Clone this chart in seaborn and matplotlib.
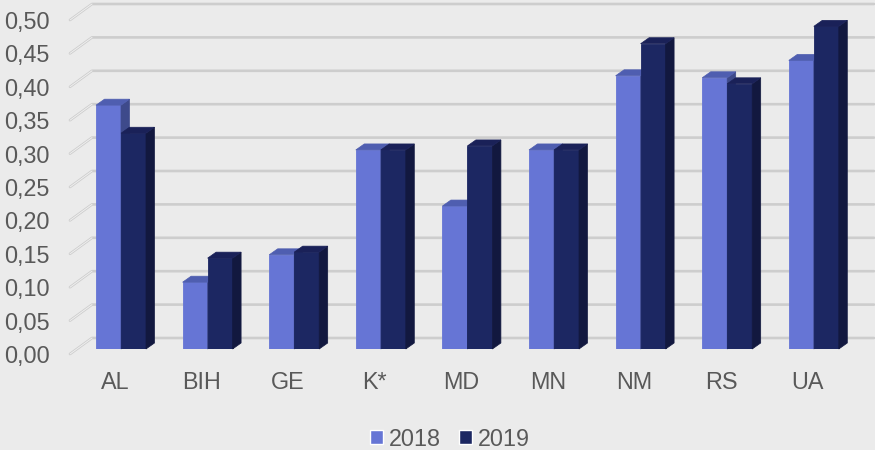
import matplotlib
matplotlib.use('Agg')
import matplotlib.pyplot as plt
from matplotlib.patches import Polygon
from matplotlib.transforms import ScaledTranslation
import pandas as pd
import seaborn as sns

countries = ['AL', 'BIH', 'GE', 'K*', 'MD', 'MN', 'NM', 'RS', 'UA']
values_2018 = [0.365, 0.100, 0.141, 0.298, 0.214, 0.298, 0.409, 0.406, 0.432]
values_2019 = [0.323, 0.136, 0.145, 0.298, 0.304, 0.298, 0.457, 0.397, 0.483]
y_ticks = [0.00, 0.05, 0.10, 0.15, 0.20, 0.25, 0.30, 0.35, 0.40, 0.45, 0.50]

BG = '#EBEBEB'
TEXT = '#595959'
FRONT = ['#6675D5', '#1C2762']
TOP = ['#4F5EB0', '#1A2158']
SIDE = ['#3E4A8B', '#12183F']

# pixel scale of the picture, used to fake the 3D look
PX_X = 86.6
PX_Y = 668.0

df = pd.DataFrame({
    'country': countries * 2,
    'value': values_2018 + values_2019,
    'year': ['2018'] * len(countries) + ['2019'] * len(countries),
})

sns.set_style('white', {'axes.facecolor': BG, 'figure.facecolor': BG})
plt.rcParams['font.family'] = ['Liberation Sans', 'DejaVu Sans']

fig = plt.figure(figsize=(8.75, 4.5), dpi=100)
ax = fig.add_axes([70 / 875, (450 - 349) / 450, (874 - 70) / 875, 345 / 450])

sns.barplot(data=df, x='country', y='value', hue='year', palette=FRONT, order=countries,
            width=50 / PX_X, gap=0, saturation=1, ax=ax, zorder=3)

ax.set_xlim((70 - 121) / PX_X, (874 - 121) / PX_X)
ax.set_ylim(0, 345 / PX_Y)

# back wall gridlines with the little diagonal on the left
x0 = ax.get_xlim()
for v in y_ticks:
    ax.plot([x0[0], x0[0] + 22 / PX_X, x0[1]],
            [v - 5 / PX_Y, v + 11 / PX_Y, v + 11 / PX_Y],
            color='#CDCDCD', lw=1.9, clip_on=False, zorder=1, solid_capstyle='round')
    ax.plot([x0[0], x0[0] + 22 / PX_X],
            [v - 5 / PX_Y, v + 11 / PX_Y],
            color='#EFEFEF', lw=0.7, clip_on=False, zorder=1.1)

# depth faces for each bar
dx = 8.5 / PX_X
dy = 6 / PX_Y
for h, cont in enumerate(ax.containers):
    for i, bar in enumerate(cont):
        z = 3 + i + h * 0.5
        bar.set_zorder(z)
        bar.set_edgecolor(FRONT[h])
        bar.set_linewidth(0.6)
        l = bar.get_x()
        r = l + bar.get_width()
        t = bar.get_height()
        ax.add_patch(Polygon([(r, 0), (r + dx, dy), (r + dx, t + dy), (r, t)],
                             facecolor=SIDE[h], edgecolor=SIDE[h], lw=0.5, zorder=z, clip_on=False))
        ax.add_patch(Polygon([(l, t), (l + dx, t + dy), (r + dx, t + dy), (r, t)],
                             facecolor=TOP[h], edgecolor=TOP[h], lw=0.5, zorder=z, clip_on=False))

ax.set_xlabel('')
ax.set_ylabel('')
for s in ax.spines.values():
    s.set_visible(False)
ax.patch.set_visible(False)

ax.set_yticks(y_ticks)
ax.set_yticklabels([f'{v:.2f}'.replace('.', ',') for v in y_ticks], fontsize=16.8, color=TEXT)
ax.tick_params(axis='y', length=0, pad=14.7)
ax.tick_params(axis='x', length=0, pad=16, labelsize=16.8, labelcolor=TEXT)

# labels sit on the front plane, a few pixels off the bars
for lab in ax.get_yticklabels():
    lab.set_transform(lab.get_transform() + ScaledTranslation(0, -5 / 100, fig.dpi_scale_trans))
for lab in ax.get_xticklabels():
    lab.set_transform(lab.get_transform() + ScaledTranslation(-6 / 100, 0, fig.dpi_scale_trans))

ax.legend(loc='center', bbox_to_anchor=(450 / 875, 11 / 450), bbox_transform=fig.transFigure,
          ncol=2, frameon=False, fontsize=16.8, labelcolor=TEXT, handlelength=0.55, handleheight=0.55,
          handletextpad=0.25, columnspacing=0.8, borderpad=0, borderaxespad=0)

fig.savefig('out.png', dpi=100, facecolor=BG)
